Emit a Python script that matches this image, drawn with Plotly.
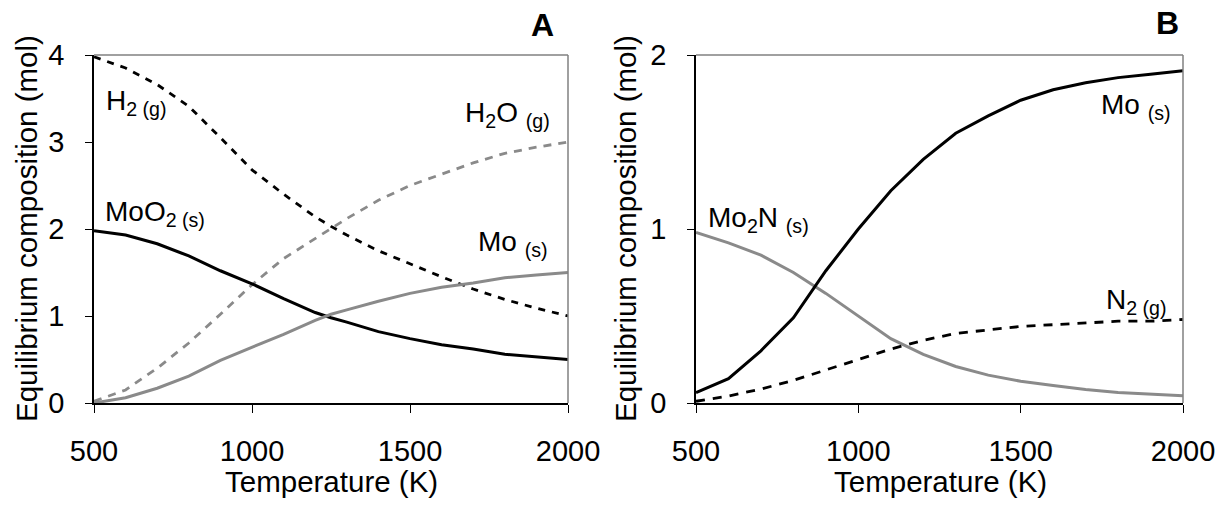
import plotly.graph_objects as go

# ---------------- data ----------------
temp_a = [500, 600, 700, 800, 900, 1000, 1100, 1200, 1250, 1300, 1400, 1500, 1600, 1700, 1800, 1900, 2000]
h2_a   = [3.98, 3.85, 3.66, 3.41, 3.05, 2.68, 2.40, 2.14, 2.03, 1.93, 1.75, 1.60, 1.45, 1.31, 1.19, 1.09, 1.00]
h2o_a  = [0.02, 0.15, 0.40, 0.69, 1.02, 1.36, 1.66, 1.89, 2.00, 2.12, 2.33, 2.50, 2.63, 2.76, 2.87, 2.94, 3.00]
moo2_a = [1.98, 1.93, 1.83, 1.69, 1.52, 1.37, 1.20, 1.04, 0.98, 0.93, 0.82, 0.74, 0.67, 0.62, 0.56, 0.53, 0.50]
mo_a   = [0.00, 0.06, 0.17, 0.31, 0.49, 0.64, 0.79, 0.95, 1.02, 1.07, 1.17, 1.26, 1.33, 1.38, 1.44, 1.47, 1.50]

temp_b = [500, 600, 700, 800, 900, 1000, 1100, 1200, 1300, 1400, 1500, 1600, 1700, 1800, 1900, 2000]
mo_b   = [0.06, 0.14, 0.30, 0.49, 0.76, 1.00, 1.22, 1.40, 1.55, 1.65, 1.74, 1.80, 1.84, 1.87, 1.89, 1.91]
mo2n_b = [0.98, 0.92, 0.85, 0.75, 0.63, 0.50, 0.37, 0.28, 0.21, 0.16, 0.125, 0.10, 0.077, 0.06, 0.052, 0.042]
n2_b   = [0.01, 0.04, 0.08, 0.13, 0.19, 0.25, 0.31, 0.36, 0.40, 0.42, 0.44, 0.45, 0.46, 0.47, 0.47, 0.48]

x_ticks = [500, 1000, 1500, 2000]
y_ticks_a = [0, 1, 2, 3, 4]
y_ticks_b = [0, 1, 2]

FONT = "Liberation Sans, Arial, sans-serif"
BLACK = "#000000"
GRAY = "#8a8a8a"
W, H = 1225, 505

def px_x(p):
    return p / W

def px_y(p):
    return 1 - p / H

fig = go.Figure()

def line(x, y, color, dash, xa, ya, width=3):
    fig.add_trace(go.Scatter(x=x, y=y, mode="lines", xaxis=xa, yaxis=ya,
                             line=dict(color=color, width=width, dash=dash),
                             showlegend=False, hoverinfo="skip"))

line(temp_a, h2_a, BLACK, "7px,7px", "x", "y", 2.8)
line(temp_a, h2o_a, GRAY, "8px,7px", "x", "y", 2.8)
line(temp_a, moo2_a, BLACK, "solid", "x", "y")
line(temp_a, mo_a, GRAY, "solid", "x", "y")

line(temp_b, mo2n_b, GRAY, "solid", "x2", "y2")
line(temp_b, mo_b, BLACK, "solid", "x2", "y2")
line(temp_b, n2_b, BLACK, "9px,8px", "x2", "y2", 2.8)

ydom = [px_y(403), px_y(55)]
axis_common = dict(showgrid=False, zeroline=False, showline=True, linecolor=BLACK, linewidth=1.5,
                   ticks="outside", tickcolor=BLACK, tickwidth=1.2,
                   tickfont=dict(family=FONT, size=29, color=BLACK), automargin=False)

fig.update_layout(
    width=W, height=H, template="none",
    margin=dict(l=0, r=0, t=0, b=0),
    paper_bgcolor="white", plot_bgcolor="white",
    showlegend=False,
    xaxis=dict(domain=[px_x(94), px_x(568)], range=[500, 2000], tickvals=x_ticks, ticklen=8,
               ticklabelstandoff=13, anchor="y", **axis_common),
    yaxis=dict(domain=ydom, range=[0, 4], tickvals=y_ticks_a, ticklen=7,
               ticklabelstandoff=15, anchor="x", **axis_common),
    xaxis2=dict(domain=[px_x(696), px_x(1183)], range=[500, 2000], tickvals=x_ticks, ticklen=8,
                ticklabelstandoff=13, anchor="y2", **axis_common),
    yaxis2=dict(domain=ydom, range=[0, 2], tickvals=y_ticks_b, ticklen=7,
                ticklabelstandoff=15, anchor="x2", **axis_common),
)

# top/right gray frame
for xa, ya in (("x", "y"), ("x2", "y2")):
    fig.add_shape(type="line", xref=f"{xa} domain", yref=f"{ya} domain", x0=0, x1=1, y0=1, y1=1,
                  line=dict(color="#808080", width=1.5))
    fig.add_shape(type="line", xref=f"{xa} domain", yref=f"{ya} domain", x0=1, x1=1, y0=0, y1=1,
                  line=dict(color="#808080", width=1.5))

def ann(text, x, y, size=28, bold=False, angle=0, xanchor="left", yanchor="middle"):
    fig.add_annotation(text=f"<b>{text}</b>" if bold else text, x=px_x(x), y=px_y(y),
                       xref="paper", yref="paper", showarrow=False, textangle=angle,
                       xanchor=xanchor, yanchor=yanchor,
                       font=dict(family=FONT, size=size, color=BLACK))

# axis titles
ann("Equilibrium composition (mol)", 27, 229, size=29.5, angle=-90, xanchor="center")
ann("Equilibrium composition (mol)", 626, 229, size=29.5, angle=-90, xanchor="center")
ann("Temperature (K)", 331, 481, size=29.5, xanchor="center")
ann("Temperature (K)", 940, 481, size=29.5, xanchor="center")

# panel letters
ann("A", 542, 25, size=32, bold=True, xanchor="center")
ann("B", 1167, 23, size=32, bold=True, xanchor="center")

# curve labels
ann("H<sub>2 (g)</sub>", 104, 103)
ann("H<sub>2</sub>O <sub>(g)</sub>", 463, 115)
ann("MoO<sub>2 (s)</sub>", 103, 214)
ann("Mo <sub>(s)</sub>", 476, 243)
ann("Mo <sub>(s)</sub>", 1099, 107)
ann("Mo<sub>2</sub>N <sub>(s)</sub>", 706, 220)
ann("N<sub>2 (g)</sub>", 1104, 301)

fig.write_html("out.html")
